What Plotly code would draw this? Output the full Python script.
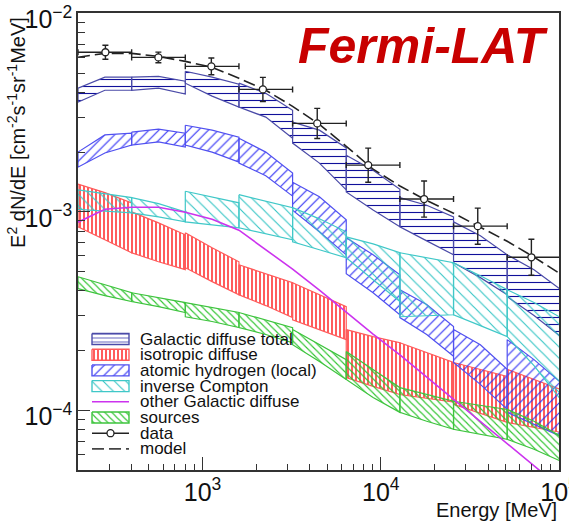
import plotly.graph_objects as go

# ---------------------------------------------------------------------------
# Energy binning (MeV): factor-2 bins; bands are sampled at both bin edges
# and at the logarithmic bin centre.
# ---------------------------------------------------------------------------
bin_edges = [200, 400, 800, 1600, 3200, 6400, 12800, 25600, 51200, 102400]
bin_centres = [283, 566, 1131, 2263, 4525, 9051, 18102, 36204, 72408]

# E^2 dN/dE band limits per bin, each entry = [left edge, centre, right edge]
total_hi = [
    [4.20e-3, 4.77e-3, 4.77e-3], [4.77e-3, 4.82e-3, 4.55e-3], [5.11e-3, 4.77e-3, 4.40e-3],
    [4.45e-3, 3.96e-3, 3.25e-3], [2.83e-3, 2.58e-3, 2.10e-3], [1.93e-3, 1.62e-3, 1.30e-3],
    [1.18e-3, 1.08e-3, 9.43e-4], [8.90e-4, 7.57e-4, 6.07e-4], [6.07e-4, 5.11e-4, 4.05e-4],
]
total_lo = [
    [3.57e-3, 4.10e-3, 4.10e-3], [4.10e-3, 4.20e-3, 3.92e-3], [4.45e-3, 3.83e-3, 3.37e-3],
    [3.37e-3, 3.00e-3, 2.35e-3], [2.22e-3, 1.76e-3, 1.29e-3], [1.26e-3, 1.02e-3, 8.40e-4],
    [8.40e-4, 7.14e-4, 6.07e-4], [5.54e-4, 4.66e-4, 3.82e-4], [3.74e-4, 3.00e-4, 2.35e-4],
]

iso_hi = [
    [1.38e-3, 1.25e-3, 1.11e-3], [9.99e-4, 8.80e-4, 7.66e-4], [7.84e-4, 6.59e-4, 5.60e-4],
    [5.41e-4, 4.88e-4, 4.39e-4], [4.39e-4, 3.82e-4, 3.33e-4], [2.55e-4, 2.35e-4, 2.19e-4],
    [2.19e-4, 1.95e-4, 1.74e-4], [1.74e-4, 1.61e-4, 1.48e-4], [1.61e-4, 1.43e-4, 1.27e-4],
]
iso_lo = [
    [8.40e-4, 7.23e-4, 6.22e-4], [6.22e-4, 5.60e-4, 5.11e-4], [5.23e-4, 4.45e-4, 3.82e-4],
    [3.82e-4, 3.37e-4, 2.93e-4], [2.86e-4, 2.55e-4, 2.27e-4], [1.46e-4, 1.32e-4, 1.20e-4],
    [1.20e-4, 1.15e-4, 1.10e-4], [1.07e-4, 9.65e-5, 8.69e-5], [8.69e-5, 8.20e-5, 7.74e-5],
]

hi_local_hi = [
    [2.00e-3, 2.44e-3, 2.49e-3], [2.52e-3, 2.61e-3, 2.49e-3], [2.73e-3, 2.58e-3, 2.38e-3],
    [2.35e-3, 2.00e-3, 1.57e-3], [1.41e-3, 1.19e-3, 9.11e-4], [7.40e-4, 6.07e-4, 4.82e-4],
    [4.05e-4, 3.41e-4, 2.64e-4], [2.55e-4, 2.14e-4, 1.61e-4], [2.27e-4, 1.80e-4, 1.38e-4],
]
hi_local_lo = [
    [1.68e-3, 1.98e-3, 2.17e-3], [2.17e-3, 2.25e-3, 2.12e-3], [2.17e-3, 2.00e-3, 1.78e-3],
    [1.76e-3, 1.52e-3, 1.20e-3], [1.02e-3, 7.93e-4, 6.07e-4], [4.88e-4, 3.91e-4, 3.03e-4],
    [2.93e-4, 2.41e-4, 1.87e-4], [1.74e-4, 1.35e-4, 1.01e-4], [9.76e-5, 8.49e-5, 7.39e-5],
]

ic_hi = [
    [1.29e-3, 1.23e-3, 1.18e-3], [1.18e-3, 1.10e-3, 9.99e-4], [1.27e-3, 1.19e-3, 1.11e-3],
    [1.22e-3, 1.13e-3, 1.05e-3], [1.05e-3, 9.22e-4, 7.93e-4], [7.48e-4, 6.90e-4, 6.22e-4],
    [6.22e-4, 5.87e-4, 5.54e-4], [5.54e-4, 4.76e-4, 4.05e-4], [4.05e-4, 3.49e-4, 2.93e-4],
]
ic_lo = [
    [1.03e-3, 1.01e-3, 9.88e-4], [9.88e-4, 9.43e-4, 8.90e-4], [8.90e-4, 8.60e-4, 8.30e-4],
    [8.30e-4, 7.75e-4, 7.23e-4], [7.06e-4, 6.44e-4, 5.87e-4], [5.87e-4, 4.55e-4, 3.53e-4],
    [2.96e-4, 3.00e-4, 3.03e-4], [3.03e-4, 2.67e-4, 2.35e-4], [2.35e-4, 1.68e-4, 1.13e-4],
]

src_hi = [
    [4.71e-4, 4.29e-4, 3.91e-4], [3.91e-4, 3.69e-4, 3.49e-4], [3.49e-4, 3.29e-4, 3.11e-4],
    [3.11e-4, 2.86e-4, 2.61e-4], [2.55e-4, 2.14e-4, 1.80e-4], [1.98e-4, 1.61e-4, 1.30e-4],
    [1.30e-4, 1.20e-4, 1.11e-4], [1.11e-4, 1.06e-4, 1.01e-4], [1.01e-4, 8.80e-5, 7.39e-5],
]
src_lo = [
    [4.10e-4, 3.78e-4, 3.53e-4], [3.53e-4, 3.33e-4, 3.11e-4], [2.96e-4, 2.80e-4, 2.61e-4],
    [2.61e-4, 2.41e-4, 2.19e-4], [2.14e-4, 1.76e-4, 1.43e-4], [1.43e-4, 1.16e-4, 9.76e-5],
    [9.76e-5, 8.80e-5, 8.02e-5], [8.02e-5, 7.57e-5, 7.14e-5], [7.14e-5, 6.36e-5, 5.54e-5],
]

# smooth curves sampled at bin edges and centres
curve_e = [200, 283, 400, 566, 800, 1131, 1600, 2263, 3200, 4525, 6400, 9051,
           12800, 18102, 25600, 36204, 51200, 72408, 102400]
other_gal = [8.86e-4, 1.03e-3, 1.055e-3, 1.055e-3, 9.95e-4, 9.18e-4, 8.08e-4, 6.41e-4,
             5.14e-4, 4.03e-4, 3.12e-4, 2.42e-4, 1.90e-4, 1.47e-4, 1.14e-4, 8.82e-5,
             6.76e-5, 5.24e-5, 4.06e-5]
model = [6.01e-3, 6.29e-3, 6.29e-3, 6.07e-3, 5.73e-3, 5.35e-3, 4.71e-3, 4.10e-3,
         3.40e-3, 2.76e-3, 2.14e-3, 1.64e-3, 1.35e-3, 1.14e-3, 9.84e-4, 8.37e-4,
         7.11e-4, 5.91e-4, 4.85e-4]

# measured spectrum
data_e = [285, 565, 1120, 2180, 4400, 8500, 17500, 35000, 70000]
data_val = [6.37e-3, 6.00e-3, 5.41e-3, 4.14e-3, 2.79e-3, 1.72e-3, 1.16e-3, 8.47e-4, 5.90e-4]
data_err_up = [5.4e-4, 3.8e-4, 5.5e-4, 6.2e-4, 5.3e-4, 3.75e-4, 2.7e-4, 1.97e-4, 1.37e-4]
data_err_dn = [5.0e-4, 3.6e-4, 5.0e-4, 5.4e-4, 4.5e-4, 3.1e-4, 2.2e-4, 1.6e-4, 1.11e-4]

# ---------------------------------------------------------------------------
# styles
# ---------------------------------------------------------------------------
FONT = "Liberation Sans, Arial, Helvetica, sans-serif"
AXIS_COL = "#333333"
components = [
    # name, hi, lo, outline, hatch colour, pattern, size, solidity
    ("Galactic diffuse total", total_hi, total_lo, "#4b4ba8", "#10109a", "-", 7, 0.16),
    ("isotropic diffuse", iso_hi, iso_lo, "#ff5a5a", "#ff0000", "|", 4, 0.32),
    ("atomic hydrogen (local)", hi_local_hi, hi_local_lo, "#5050f0", "#2d2df5", "/", 7, 0.16),
    ("inverse Compton", ic_hi, ic_lo, "#40c8c8", "#33c4c4", "\\", 8, 0.14),
    ("sources", src_hi, src_lo, "#3ec43e", "#2fc42f", "\\", 5, 0.22),
]
OTHER_COL = "#cc33ee"


def band_outline(hi, lo):
    xs, ys = [], []
    for i in range(len(hi)):
        e = [bin_edges[i], bin_centres[i], bin_edges[i + 1]]
        xs += e + e[::-1] + [e[0], None]
        ys += hi[i] + lo[i][::-1] + [hi[i][0], None]
    return xs, ys


fig = go.Figure()

for name, hi, lo, lc, hc, shape, size, sol in components:
    xs, ys = band_outline(hi, lo)
    fig.add_trace(go.Scatter(
        x=xs, y=ys, mode="lines", fill="toself", name=name, showlegend=False,
        line=dict(color=lc, width=1.2),
        fillcolor=hc,
        fillpattern=dict(shape=shape, fgcolor=hc, bgcolor="rgba(0,0,0,0)",
                         size=size, solidity=sol, fillmode="replace"),
        hoverinfo="skip",
    ))

fig.add_trace(go.Scatter(
    x=curve_e, y=other_gal, mode="lines", showlegend=False,
    line=dict(color=OTHER_COL, width=1.6),
))

fig.add_trace(go.Scatter(
    x=curve_e, y=model, mode="lines", showlegend=False,
    line=dict(color="#222222", width=1.6, dash="12px,5px"),
))

fig.add_trace(go.Scatter(
    x=data_e, y=data_val, mode="markers", showlegend=False,
    marker=dict(symbol="circle", size=7, color="white",
                line=dict(color="#222222", width=1.3)),
    error_y=dict(type="data", array=data_err_up, arrayminus=data_err_dn,
                 color="#222222", thickness=1.4, width=3),
    error_x=dict(type="data",
                 array=[bin_edges[i + 1] - e for i, e in enumerate(data_e)],
                 arrayminus=[e - bin_edges[i] for i, e in enumerate(data_e)],
                 color="#222222", thickness=1.4, width=3),
))

# ---------------------------------------------------------------------------
# hand-drawn legend on an overlay subplot (units = pixels inside the box)
# ---------------------------------------------------------------------------
LEG_W, LEG_H = 242, 128
row_y = [7 + 15.7 * k for k in range(8)]
sw_x0, sw_x1, sw_h = 4, 41, 5.5
text_x = 50
legend_rows = ["Galactic diffuse total", "isotropic diffuse", "atomic hydrogen (local)",
               "inverse Compton", "other Galactic diffuse", "sources", "data", "model"]
band_rows = {"Galactic diffuse total": 0, "isotropic diffuse": 1,
             "atomic hydrogen (local)": 2, "inverse Compton": 3, "sources": 5}

for name, hi, lo, lc, hc, shape, size, sol in components:
    r = row_y[band_rows[name]]
    fig.add_trace(go.Scatter(
        x=[sw_x0, sw_x1, sw_x1, sw_x0, sw_x0],
        y=[r - sw_h, r - sw_h, r + sw_h, r + sw_h, r - sw_h],
        xaxis="x2", yaxis="y2", mode="lines", fill="toself", showlegend=False,
        line=dict(color=lc, width=1.4), fillcolor=hc,
        fillpattern=dict(shape=shape, fgcolor=hc, bgcolor="rgba(0,0,0,0)",
                         size=size if shape != "-" else 4, solidity=sol, fillmode="replace"),
        hoverinfo="skip",
    ))

fig.add_trace(go.Scatter(
    x=[sw_x0, sw_x1], y=[row_y[4]] * 2, xaxis="x2", yaxis="y2", mode="lines",
    showlegend=False, line=dict(color=OTHER_COL, width=1.6), hoverinfo="skip"))
fig.add_trace(go.Scatter(
    x=[sw_x0, sw_x1], y=[row_y[6]] * 2, xaxis="x2", yaxis="y2", mode="lines",
    showlegend=False, line=dict(color="#222222", width=1.4), hoverinfo="skip"))
fig.add_trace(go.Scatter(
    x=[(sw_x0 + sw_x1) / 2], y=[row_y[6]], xaxis="x2", yaxis="y2", mode="markers",
    showlegend=False, marker=dict(symbol="circle", size=7, color="white",
                                  line=dict(color="#222222", width=1.3)),
    hoverinfo="skip"))
fig.add_trace(go.Scatter(
    x=[sw_x0, sw_x1], y=[row_y[7]] * 2, xaxis="x2", yaxis="y2", mode="lines",
    showlegend=False, line=dict(color="#444444", width=1.6, dash="12px,5px"),
    hoverinfo="skip"))

annotations = []
for k, label in enumerate(legend_rows):
    annotations.append(dict(
        x=text_x, y=row_y[k], xref="x2", yref="y2", text=label, showarrow=False,
        xanchor="left", yanchor="middle", font=dict(family=FONT, size=17, color="#111111")))

annotations += [
    dict(text="E<sup>2</sup> dN/dE [cm<sup>-2</sup>s<sup>-1</sup>sr<sup>-1</sup>MeV]",
         x=-0.128, y=0.9956, xref="paper", yref="paper", textangle=-90,
         xanchor="center", yanchor="top", showarrow=False,
         font=dict(family=FONT, size=20, color="#111111")),
    dict(text="Energy [MeV]", x=1.0, y=-0.0865, xref="paper", yref="paper",
         xanchor="right", yanchor="middle", showarrow=False,
         font=dict(family=FONT, size=20, color="#111111")),
    dict(text="<b><i>Fermi-LAT</i></b>", x=0.7193, y=0.9278, xref="paper", yref="paper",
         xanchor="center", yanchor="middle", showarrow=False,
         font=dict(family=FONT, size=50, color="#c80000")),
]

tick_font = dict(family=FONT, size=20, color="#111111")
fig.update_layout(
    width=569, height=522,
    margin=dict(l=78, r=10, t=13, b=52, autoexpand=False),
    paper_bgcolor="white", plot_bgcolor="rgba(0,0,0,0)",
    showlegend=False,
    xaxis=dict(type="log", range=[2.30103, 5.0], dtick=1, exponentformat="power",
               showgrid=False, zeroline=False, showline=True, mirror=True,
               linecolor=AXIS_COL, linewidth=1.5, automargin=False,
               ticks="inside", ticklen=13, tickwidth=1.3, tickcolor=AXIS_COL,
               tickfont=tick_font, ticklabelstandoff=0, ticklabeloverflow="allow",
               minor=dict(ticks="inside", ticklen=6, tickwidth=1.2,
                          tickcolor=AXIS_COL, dtick="D1", showgrid=False)),
    yaxis=dict(type="log", range=[-4.30103, -1.998], dtick=1, exponentformat="power",
               showgrid=False, zeroline=False, showline=True, mirror=True,
               linecolor=AXIS_COL, linewidth=1.5, automargin=False,
               ticks="inside", ticklen=12, tickwidth=1.3, tickcolor=AXIS_COL,
               tickfont=tick_font, ticklabeloverflow="allow", ticklabelshift=6,
               minor=dict(ticks="inside", ticklen=7, tickwidth=1.2,
                          tickcolor=AXIS_COL, dtick="D1", showgrid=False)),
    xaxis2=dict(domain=[10 / 481, (10 + LEG_W) / 481], range=[0, LEG_W], anchor="y2",
                visible=False, fixedrange=True),
    yaxis2=dict(domain=[10 / 457, (10 + LEG_H) / 457], range=[LEG_H, 0], anchor="x2",
                visible=False, fixedrange=True),
    annotations=annotations,
)

fig.write_html("out.html")
